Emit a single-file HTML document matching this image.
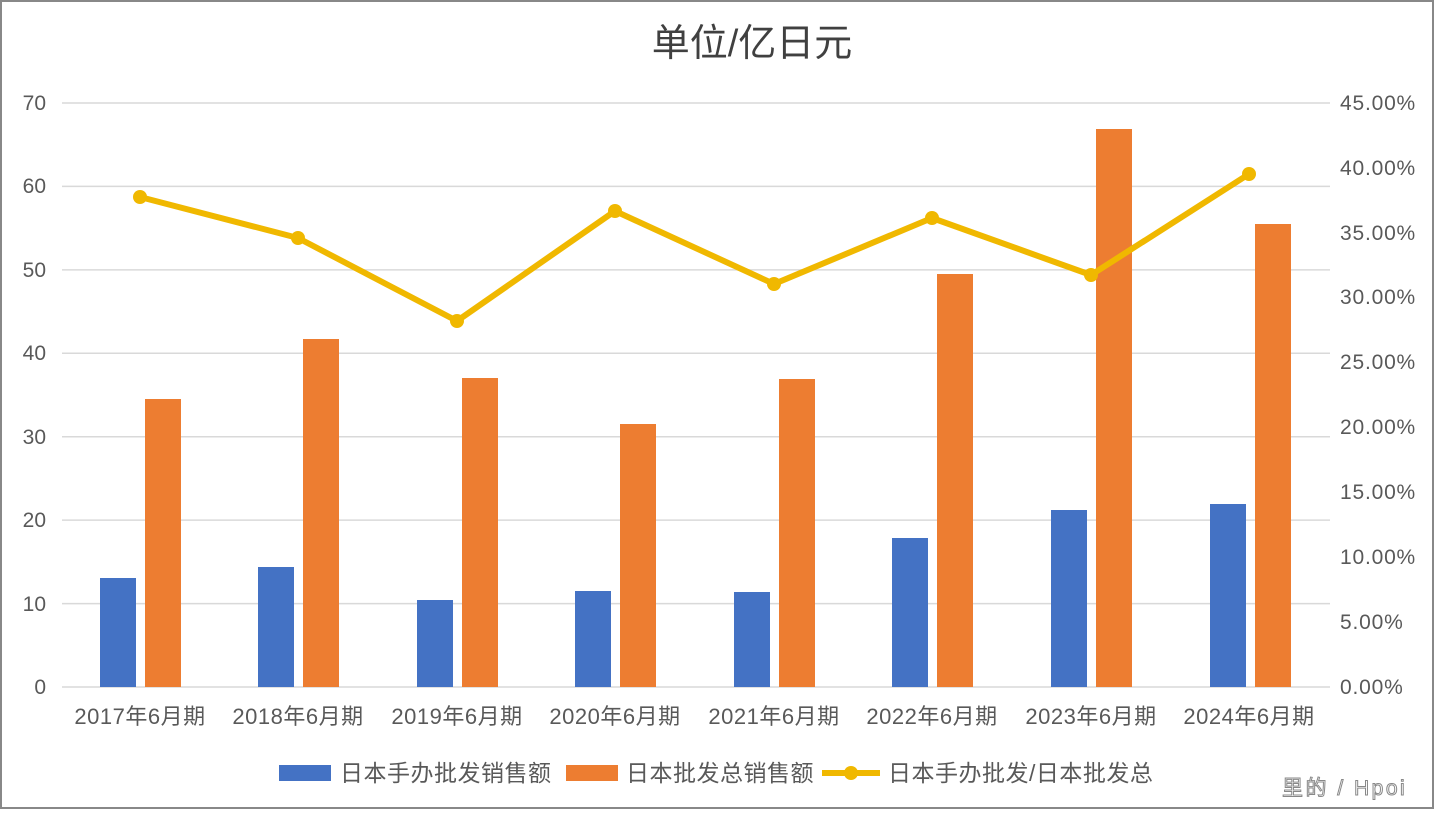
<!DOCTYPE html><html><head><meta charset="utf-8"><style>body{margin:0;background:#fff}svg{display:block}text{font-family:"Liberation Sans","Noto Sans CJK SC",sans-serif}</style></head><body>
<svg width="1438" height="814" viewBox="0 0 1438 814">
<rect x="0" y="0" width="1438" height="814" fill="#fff"/>
<rect x="1" y="1" width="1432" height="807" fill="none" stroke="#888" stroke-width="2"/>
<text x="752" y="56" font-size="38" text-anchor="middle" fill="#404040">单位/亿日元</text>
<g stroke="#d9d9d9" stroke-width="1.5">
<line x1="62" x2="1330" y1="103" y2="103"/><line x1="62" x2="1330" y1="186.4" y2="186.4"/><line x1="62" x2="1330" y1="269.9" y2="269.9"/><line x1="62" x2="1330" y1="353.3" y2="353.3"/><line x1="62" x2="1330" y1="436.7" y2="436.7"/><line x1="62" x2="1330" y1="520.1" y2="520.1"/><line x1="62" x2="1330" y1="603.6" y2="603.6"/><line x1="62" x2="1330" y1="687" y2="687"/>
</g>
<g font-size="21" fill="#595959" text-anchor="end">
<text x="46" y="110">70</text><text x="46" y="193">60</text><text x="46" y="277">50</text><text x="46" y="360">40</text><text x="46" y="444">30</text><text x="46" y="527">20</text><text x="46" y="611">10</text><text x="46" y="694">0</text>
</g>
<g font-size="21" fill="#595959" text-anchor="start" letter-spacing="0.8">
<text x="1340" y="110">45.00%</text><text x="1340" y="175">40.00%</text><text x="1340" y="240">35.00%</text><text x="1340" y="304">30.00%</text><text x="1340" y="369">25.00%</text><text x="1340" y="434">20.00%</text><text x="1340" y="499">15.00%</text><text x="1340" y="564">10.00%</text><text x="1340" y="629">5.00%</text><text x="1340" y="694">0.00%</text>
</g>
<g fill="#4472c4">
<rect x="100" y="578" width="36" height="109"/><rect x="258" y="567" width="36" height="120"/><rect x="417" y="600" width="36" height="87"/><rect x="575" y="591" width="36" height="96"/><rect x="734" y="592" width="36" height="95"/><rect x="892" y="538" width="36" height="149"/><rect x="1051" y="510" width="36" height="177"/><rect x="1210" y="504" width="36" height="183"/>
</g>
<g fill="#ed7d31">
<rect x="145" y="399" width="36" height="288"/><rect x="303" y="339" width="36" height="348"/><rect x="462" y="378" width="36" height="309"/><rect x="620" y="424" width="36" height="263"/><rect x="779" y="379" width="36" height="308"/><rect x="937" y="274" width="36" height="413"/><rect x="1096" y="129" width="36" height="558"/><rect x="1255" y="224" width="36" height="463"/>
</g>
<polyline fill="none" stroke="#f0b800" stroke-width="6" stroke-linejoin="round" points="140,197 298,238 457,321 615,211 774,284 932,218 1091,275 1249,174"/>
<g fill="#f0b800"><circle cx="140" cy="197" r="7"/><circle cx="298" cy="238" r="7"/><circle cx="457" cy="321" r="7"/><circle cx="615" cy="211" r="7"/><circle cx="774" cy="284" r="7"/><circle cx="932" cy="218" r="7"/><circle cx="1091" cy="275" r="7"/><circle cx="1249" cy="174" r="7"/></g>
<g font-size="22" fill="#595959" text-anchor="middle" letter-spacing="0.5">
<text x="140" y="724">2017年6月期</text><text x="298" y="724">2018年6月期</text><text x="457" y="724">2019年6月期</text><text x="615" y="724">2020年6月期</text><text x="774" y="724">2021年6月期</text><text x="932" y="724">2022年6月期</text><text x="1091" y="724">2023年6月期</text><text x="1249" y="724">2024年6月期</text>
</g>
<g font-size="23" fill="#595959" letter-spacing="0.5">
<rect x="279" y="765" width="52" height="16" fill="#4472c4"/><text x="340" y="781">日本手办批发销售额</text>
<rect x="566" y="765" width="52" height="16" fill="#ed7d31"/><text x="626" y="781">日本批发总销售额</text>
<line x1="822" x2="880" y1="773" y2="773" stroke="#f0b800" stroke-width="6"/><circle cx="851" cy="773" r="7" fill="#f0b800"/><text x="888" y="781">日本手办批发/日本批发总</text>
</g>
<text x="1282" y="795" font-size="21" fill="#fff" stroke="#888" stroke-width="1" letter-spacing="2.5">里的 / Hpoi</text>
</svg></body></html>
